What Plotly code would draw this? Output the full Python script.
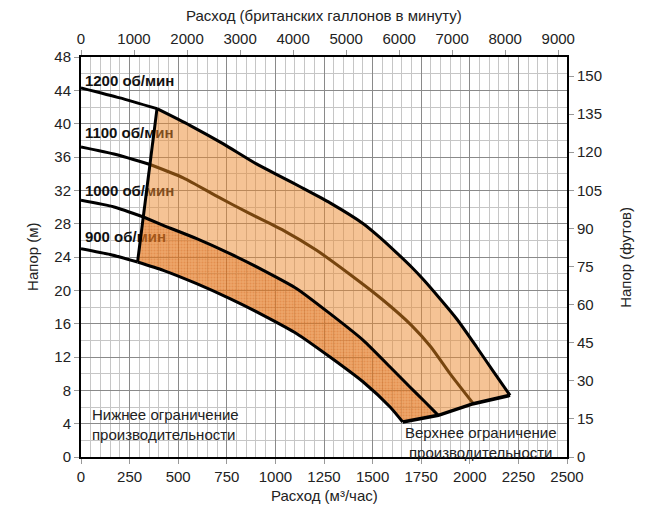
import numpy as np
import plotly.graph_objects as go

# unit conversions for the secondary axes
GPM_PER_M3H = 3.66615   # imperial gallons per minute in 1 m3/h
FT_PER_M = 3.28084

FONT = "Liberation Sans, Arial, sans-serif"

# pump curves, flow in m3/h, head in m
q900 = [0, 150, 291, 423, 595, 766, 938, 1110, 1281, 1452, 1590, 1655]
h900 = [25.0, 24.3, 23.4, 22.4, 20.8, 19.0, 17.0, 14.8, 12.0, 9.0, 6.0, 4.2]

q1000 = [0, 170, 321, 423, 595, 766, 938, 1110, 1281, 1452, 1590, 1692, 1770, 1838]
h1000 = [30.8, 30.0, 28.8, 27.8, 26.2, 24.4, 22.4, 20.2, 17.2, 14.0, 10.8, 8.4, 6.6, 5.0]

q1100 = [0, 180, 355, 526, 698, 869, 1041, 1212, 1384, 1550, 1700, 1800, 1898, 2018]
h1100 = [37.2, 36.3, 35.1, 33.5, 31.3, 29.2, 27.2, 24.8, 21.9, 18.9, 15.8, 13.2, 10.0, 6.4]

q1200 = [0, 200, 391, 560, 730, 900, 1040, 1130, 1281, 1452, 1540, 1624, 1700, 1761,
         1850, 1935, 2035, 2120, 2207]
h1200 = [44.3, 43.1, 41.8, 39.8, 37.6, 35.2, 33.5, 32.4, 30.5, 28.0, 26.3, 24.5, 22.8, 21.3,
         18.9, 16.5, 13.2, 10.3, 7.4]

# flow where each curve meets the lower capacity limit
q_min = [291, 321, 355, 391]

labels = ["<b>900 об/мин</b>", "<b>1000 об/мин</b>", "<b>1100 об/мин</b>", "<b>1200 об/мин</b>"]
label_h = [26.2, 31.8, 38.7, 45.0]


def split(q, h, qc):
    q = np.array(q, dtype=float)
    h = np.array(h, dtype=float)
    out = q <= qc
    inn = q >= qc
    return (q[out], h[out]), (q[inn], h[inn])


curves = [(q900, h900), (q1000, h1000), (q1100, h1100), (q1200, h1200)]
parts = [split(q, h, qc) for (q, h), qc in zip(curves, q_min)]

fig = go.Figure()

# labels go first so the shaded area is drawn over them
fig.add_trace(go.Scatter(
    x=[20] * len(labels), y=label_h, text=labels, mode="text",
    textposition="middle right",
    textfont=dict(family=FONT, size=15, color="#111111"),
    hoverinfo="skip",
))

(_, _), (q9i, h9i) = parts[0]
(_, _), (q10i, h10i) = parts[1]
(_, _), (q12i, h12i) = parts[3]

# light area between 1000 and 1200 rpm
fig.add_trace(go.Scatter(
    x=np.concatenate([q12i, q10i[::-1]]),
    y=np.concatenate([h12i, h10i[::-1]]),
    fill="toself", mode="none",
    fillcolor="rgba(236,136,44,0.50)",
    hoverinfo="skip",
))

# darker dotted area between 900 and 1000 rpm
fig.add_trace(go.Scatter(
    x=np.concatenate([q10i, q9i[::-1]]),
    y=np.concatenate([h10i, h9i[::-1]]),
    fill="toself", mode="none",
    fillcolor="rgba(228,118,28,0.66)",
    fillpattern=dict(shape=".", size=3, solidity=0.35,
                     fgcolor="rgba(205,95,20,0.6)",
                     bgcolor="rgba(228,118,28,0.66)"),
    hoverinfo="skip",
))

# curve lines
for i, ((qo, ho), (qi, hi)) in enumerate(parts):
    fig.add_trace(go.Scatter(x=qo, y=ho, mode="lines", line=dict(color="black", width=3, shape="spline", smoothing=0.6), hoverinfo="skip"))
    color = "#77450f" if i == 2 else "black"
    fig.add_trace(go.Scatter(x=qi, y=hi, mode="lines", line=dict(color=color, width=3, shape="spline", smoothing=0.6), hoverinfo="skip"))

# lower and upper capacity limits
fig.add_trace(go.Scatter(
    x=[p[1][0][0] for p in parts], y=[p[1][1][0] for p in parts],
    mode="lines", line=dict(color="black", width=3), hoverinfo="skip",
))
fig.add_trace(go.Scatter(
    x=[p[1][0][-1] for p in parts], y=[p[1][1][-1] for p in parts],
    mode="lines", line=dict(color="black", width=3.5), hoverinfo="skip",
))

# the top curve again in imperial units, invisible, so the second axes exist
fig.add_trace(go.Scatter(
    x=np.array(q1200) * GPM_PER_M3H, y=h1200, xaxis="x2", yaxis="y",
    mode="lines", line=dict(width=0), opacity=0, hoverinfo="skip",
))
fig.add_trace(go.Scatter(
    x=q1200, y=np.array(h1200) * FT_PER_M, xaxis="x", yaxis="y2",
    mode="lines", line=dict(width=0), opacity=0, hoverinfo="skip",
))

tickfont = dict(family=FONT, size=15, color="#222222")
common = dict(showline=True, linecolor="black", linewidth=2, ticks="outside",
              ticklen=5, tickcolor="#999999", tickfont=tickfont, zeroline=False,
              automargin=False, fixedrange=True)

# the page body adds 8px around the figure, so the figure is 8px smaller
fig.update_layout(
    width=650, height=503,
    margin=dict(l=73, r=91, t=49, b=54),
    paper_bgcolor="white", plot_bgcolor="white",
    showlegend=False,
    xaxis=dict(range=[0, 2500], dtick=250, tick0=0, showgrid=True,
               gridcolor="#8a8a8a", gridwidth=1,
               minor=dict(dtick=50, showgrid=True, gridcolor="#c6c6c6", gridwidth=1),
               **common),
    yaxis=dict(range=[0, 48], dtick=4, tick0=0, showgrid=True,
               gridcolor="#8a8a8a", gridwidth=1,
               minor=dict(dtick=2, showgrid=True, gridcolor="#c6c6c6", gridwidth=1),
               **common),
    xaxis2=dict(overlaying="x", side="top", anchor="y",
                range=[0, 2500 * GPM_PER_M3H], dtick=1000, tick0=0,
                showgrid=False, **common),
    yaxis2=dict(overlaying="y", side="right", anchor="x",
                range=[0, 48 * FT_PER_M], dtick=15, tick0=0,
                showgrid=False, **common),
    annotations=[
        dict(text="Расход (британских галлонов в минуту)", xref="paper", yref="paper",
             x=0.5, y=1.1025, xanchor="center", yanchor="middle", showarrow=False, font=tickfont),
        dict(text="Расход (м³/час)", xref="paper", yref="paper",
             x=0.5, y=-0.095, xanchor="center", yanchor="middle", showarrow=False, font=tickfont),
        dict(text="Напор (м)", xref="paper", yref="paper", textangle=-90,
             x=-0.101, y=0.5, xanchor="center", yanchor="middle", showarrow=False, font=tickfont),
        dict(text="Напор (футов)", xref="paper", yref="paper", textangle=-90,
             x=1.119, y=0.5, xanchor="center", yanchor="middle", showarrow=False, font=tickfont),
        dict(text="Нижнее ограничение<br>производительности", xref="x", yref="y",
             x=45, y=3.9, xanchor="left", align="left", showarrow=False,
             font=dict(family=FONT, size=15, color="#222222")),
        dict(text="Верхнее ограничение<br>производительности", xref="x", yref="y",
             x=2055, y=1.8, xanchor="center", align="center", showarrow=False,
             font=dict(family=FONT, size=15, color="#222222")),
    ],
)

fig.write_html("out.html")
